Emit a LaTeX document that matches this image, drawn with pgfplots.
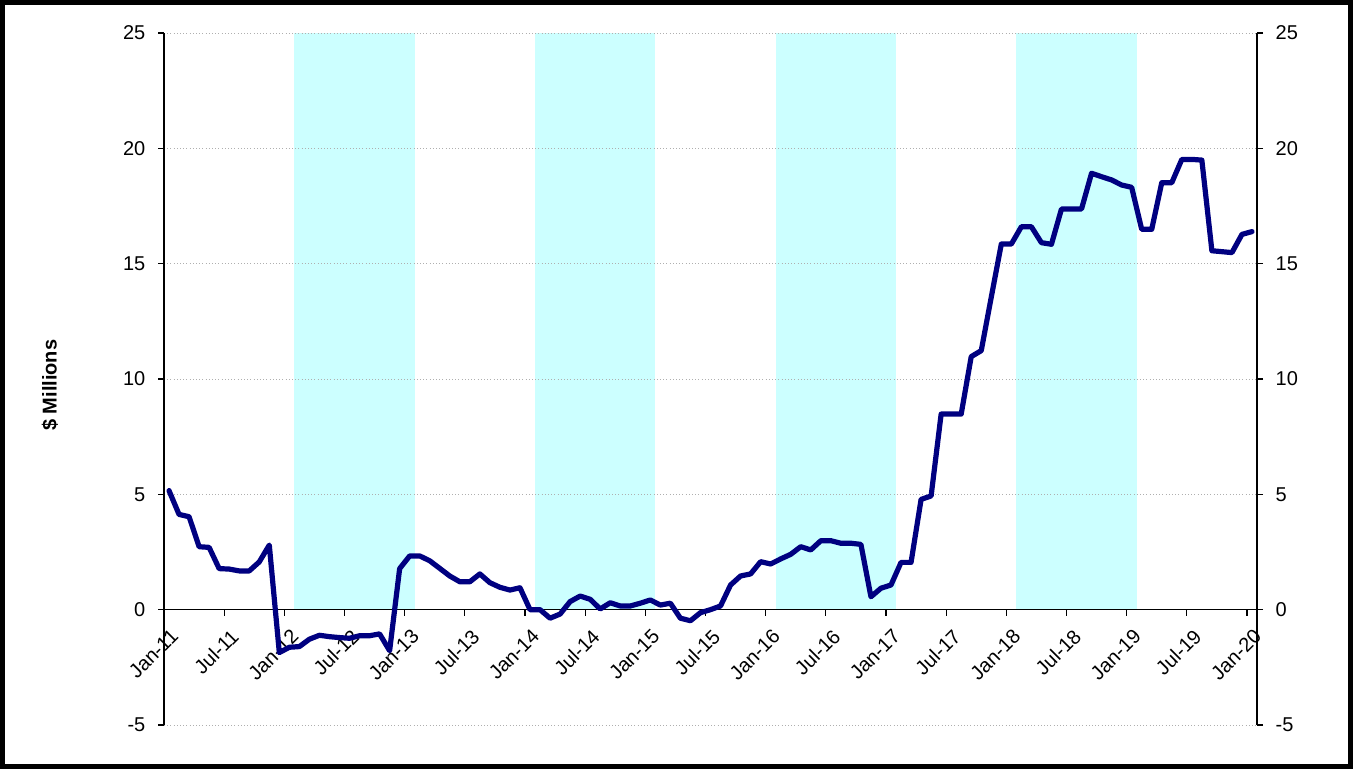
\documentclass[border=0pt]{standalone}
\usepackage{fontspec}
\setmainfont{Liberation Sans}
\usepackage{pgfplots}
\usepackage{pgfplotstable}
\pgfplotsset{compat=1.18}

\definecolor{navyline}{RGB}{0,0,128}
\definecolor{bandcyan}{RGB}{204,255,255}
\definecolor{gridgray}{RGB}{175,175,175}

% monthly values, Jan-11 (k=0) to Jan-20 (k=108)
\pgfplotstableread{
k v
0 5.16
1 4.13
2 4.03
3 2.73
4 2.70
5 1.78
6 1.76
7 1.68
8 1.68
9 2.07
10 2.80
11 -1.86
12 -1.63
13 -1.60
14 -1.28
15 -1.11
16 -1.17
17 -1.21
18 -1.24
19 -1.13
20 -1.13
21 -1.05
22 -1.78
23 1.78
24 2.33
25 2.33
26 2.12
27 1.79
28 1.46
29 1.21
30 1.21
31 1.55
32 1.17
33 0.97
34 0.85
35 0.95
36 0.00
37 0.00
38 -0.37
39 -0.19
40 0.35
41 0.59
42 0.45
43 0.03
44 0.30
45 0.16
46 0.16
47 0.28
48 0.42
49 0.20
50 0.28
51 -0.37
52 -0.48
53 -0.13
54 0.00
55 0.16
56 1.07
57 1.46
58 1.55
59 2.08
60 1.98
61 2.20
62 2.40
63 2.73
64 2.59
65 2.99
66 2.99
67 2.88
68 2.88
69 2.83
70 0.56
71 0.93
72 1.07
73 2.05
74 2.05
75 4.78
76 4.93
77 8.48
78 8.48
79 8.48
80 10.97
81 11.23
82 13.55
83 15.85
84 15.85
85 16.60
86 16.60
87 15.91
88 15.84
89 17.37
90 17.37
91 17.37
92 18.92
93 18.77
94 18.63
95 18.41
96 18.31
97 16.49
98 16.49
99 18.51
100 18.51
101 19.52
102 19.52
103 19.49
104 15.56
105 15.52
106 15.48
107 16.27
108 16.39
}\datatable

\pgfplotsset{
  layers/bandsfirst/.define layer set={axis background,axis grid,pre main,axis ticks,axis lines,axis tick labels,main,axis descriptions,axis foreground}{},
  common/.style={
    scale only axis, width=819.75pt, height=519pt,
    at={(123pt,33pt)}, anchor=south west,
    xmin=0, xmax=109, ymin=-5, ymax=25,
    ytick={-5,0,...,25},
    tick align=outside, major tick length=4.5pt,
    ticklabel style={font=\fontsize{15}{18}\selectfont},
    /pgf/number format/assume math mode=true,
    tick style={black, line width=0.9pt},
    axis line style={black, line width=0.9pt},
  },
}

\begin{document}
\begin{tikzpicture}
\begin{axis}[common, set layers=bandsfirst,
  axis x line*=middle, axis y line*=left,
  hide obscured x ticks=false,
  xtick={0,6,...,108},
  xticklabels={Jan-11,Jul-11,Jan-12,Jul-12,Jan-13,Jul-13,Jan-14,Jul-14,Jan-15,Jul-15,Jan-16,Jul-16,Jan-17,Jul-17,Jan-18,Jul-18,Jan-19,Jul-19,Jan-20},
  xticklabel style={rotate=45, anchor=north east, xshift=0pt, yshift=-6pt},
  yticklabel style={xshift=-6pt},
  ymajorgrids, grid style={gridgray, dotted, line width=0.6pt},
  ylabel={\textbf{\$ Millions}},
  ylabel style={at={(axis description cs:-0.1043,0.491)}, anchor=center, font=\fontsize{15}{18}\selectfont},
]
\addplot[fill=bandcyan, draw=none, on layer=pre main] coordinates {(13,25) (25,25)} \closedcycle;
\addplot[fill=bandcyan, draw=none, on layer=pre main] coordinates {(37,25) (49,25)} \closedcycle;
\addplot[fill=bandcyan, draw=none, on layer=pre main] coordinates {(61,25) (73,25)} \closedcycle;
\addplot[fill=bandcyan, draw=none, on layer=pre main] coordinates {(85,25) (97,25)} \closedcycle;
\addplot[navyline, line width=3.9pt, line join=round, line cap=round]
  table[x expr=\thisrow{k}+0.5, y=v] {\datatable};
\end{axis}

\begin{axis}[common,
  axis x line=none, axis y line*=right,
  yticklabel style={xshift=6pt},
]
\addplot[draw=none] coordinates {(0,-5) (109,25)};
\end{axis}

\draw[line width=3.75pt] (1.875pt,1.875pt) rectangle (1012.875pt,574.875pt);
\end{tikzpicture}
\end{document}
